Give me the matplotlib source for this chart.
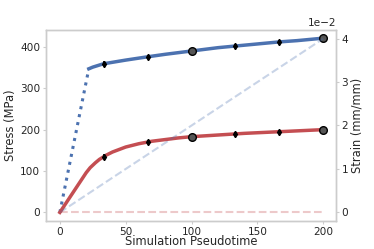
import numpy as np
import matplotlib
matplotlib.use("Agg")
import matplotlib.pyplot as plt

# elastic part (dotted) and plastic part (solid) of the blue stress curve
blue_el_t = [0, 22]
blue_el_s = [0, 347]
blue_t = [22, 25, 33, 50, 66.7, 80, 100, 120, 133.3, 150, 166.7, 180, 200]
blue_s = [347, 351, 359, 368, 376, 382, 390, 398, 402, 407, 412, 415, 421]

red_t = [0, 5, 10, 15, 20, 23, 27, 30, 35, 40, 50, 60, 70, 80, 90, 100,
         120, 140, 160, 180, 200]
red_s = [0, 24, 48, 72, 96, 108, 120, 128, 138, 146, 158, 166, 172, 176,
         180, 183, 187, 191, 194, 197, 200]

# sample points with error bars
pt_t = [33.3, 66.7, 100, 133.3, 166.7, 200]
blue_pts = [359, 376, 390, 402, 412, 421]
red_pts = [135, 171, 183, 190, 195, 200]
err = [6, 5, 4, 4, 4, 3]
circle_idx = [2, 5]

# applied strain
strain_t = [0, 200]
blue_strain = [0, 0.04]
red_strain = [0, 0]

BLUE = "#4c72b0"
RED = "#c44e52"
TXT = "#262626"
SPINE = "#cccccc"

plt.rcParams["font.family"] = ["DejaVu Sans"]
fig, ax = plt.subplots(figsize=(3.74, 2.49), dpi=100)
ax2 = ax.twinx()

ax.plot(blue_el_t, blue_el_s, ":", color=BLUE, lw=2.2)
ax.plot(blue_t, blue_s, "-", color=BLUE, lw=2.5)
ax.plot(red_t, red_s, "-", color=RED, lw=2.5)

for ys in (blue_pts, red_pts):
    ax.errorbar(pt_t, ys, yerr=err, fmt="d", color="black", ms=3.2,
                elinewidth=1.2, capsize=0, zorder=5)
    ax.plot([pt_t[i] for i in circle_idx], [ys[i] for i in circle_idx], "o",
            ms=5.5, mfc="#555555", mec="black", mew=1, zorder=6)

ax2.plot(strain_t, blue_strain, "--", color=BLUE, alpha=0.3, lw=1.5)
ax2.plot(strain_t, red_strain, "--", color=RED, alpha=0.3, lw=1.5)

ax.set_xlim(-10.5, 209.5)
ax.set_ylim(-21, 441)
ax2.set_ylim(-0.002, 0.042)
ax.set_xticks([0, 50, 100, 150, 200])
ax.set_yticks([0, 100, 200, 300, 400])
ax2.set_yticks([0, 0.01, 0.02, 0.03, 0.04])
ax2.ticklabel_format(axis="y", style="sci", scilimits=(-2, -2))

ax.set_xlabel("Simulation Pseudotime", fontsize=8.3, color=TXT, labelpad=-1)
ax.set_ylabel("Stress (MPa)", fontsize=8.3, color=TXT, labelpad=2)
ax2.set_ylabel("Strain (mm/mm)", fontsize=8.3, color=TXT, labelpad=2)

for a in (ax, ax2):
    a.tick_params(labelsize=7.6, colors=TXT, length=2.5, width=0.8, pad=1.5)
    a.tick_params(color=SPINE)
    for sp in a.spines.values():
        sp.set_color(SPINE)
        sp.set_linewidth(1)
ax2.yaxis.get_offset_text().set_fontsize(7.6)
ax2.yaxis.get_offset_text().set_color(TXT)

fig.subplots_adjust(left=0.123, right=0.898, top=0.88, bottom=0.112)
fig.savefig("out.png", dpi=100)
